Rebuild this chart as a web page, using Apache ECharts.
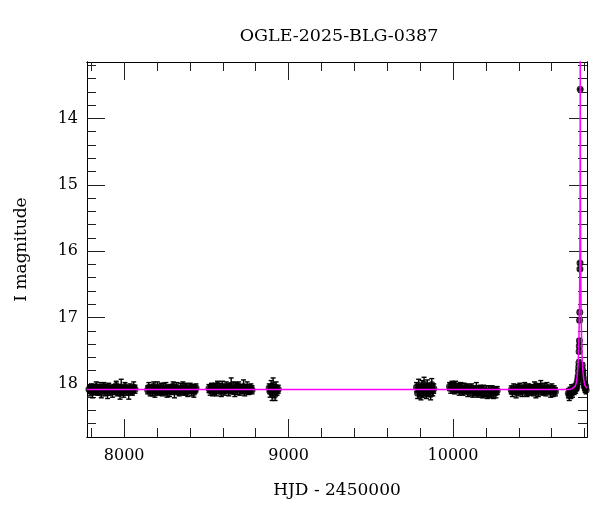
<!DOCTYPE html>
<html><head><meta charset="utf-8">
<script src="https://cdn.jsdelivr.net/npm/echarts@6/dist/echarts.min.js"></script>
<style>html,body{margin:0;padding:0;background:#fff}#c{width:600px;height:512px}</style>
</head><body><div id="c"></div>
<script>
// ---- Data (HJD - 2450000, I magnitude, error) ----
const sA_t = [7786,7793,7801,7808,7815,7823,7830,7838,7846,7853,7861,7868,7876,7884,7891,7899,7906,7914,7921,7929,7937,7944,7952,7959,7967,7975,7982,7990,7997,8005,8013,8020,8028,8036,8043,8051,8058,8066];
const sA_m = [18.08,18.11,18.05,18.13,18.07,18.10,18.04,18.12,18.09,18.06,18.14,18.08,18.03,18.11,18.07,18.13,18.05,18.10,18.08,18.12,18.06,18.09,18.02,18.11,18.07,18.14,18.05,18.09,18.12,18.04,18.10,18.07,18.13,18.06,18.09,18.11,18.05,18.08];
const sA_e = [0.06,0.07,0.05,0.08,0.06,0.06,0.07,0.05,0.06,0.08,0.07,0.06,0.05,0.07,0.06,0.09,0.06,0.07,0.06,0.08,0.05,0.07,0.06,0.07,0.06,0.09,0.12,0.06,0.08,0.06,0.07,0.05,0.10,0.06,0.07,0.06,0.08,0.06];

const sB_t = [8143,8150,8158,8165,8172,8180,8187,8195,8202,8209,8217,8224,8232,8239,8246,8254,8261,8269,8276,8283,8291,8298,8306,8313,8320,8328,8335,8343,8350,8357,8365,8372,8380,8387,8394,8402,8409,8417,8424,8431,8437];
const sB_m = [18.09,18.05,18.12,18.07,18.10,18.03,18.13,18.08,18.06,18.11,18.09,18.04,18.12,18.07,18.10,18.05,18.14,18.08,18.11,18.06,18.09,18.03,18.12,18.08,18.05,18.10,18.13,18.07,18.09,18.04,18.11,18.08,18.06,18.12,18.09,18.05,18.10,18.07,18.13,18.08,18.06];
const sB_e = [0.06,0.07,0.06,0.05,0.08,0.06,0.07,0.06,0.09,0.06,0.07,0.05,0.06,0.08,0.06,0.07,0.06,0.06,0.08,0.05,0.07,0.06,0.09,0.06,0.07,0.06,0.05,0.08,0.06,0.07,0.06,0.09,0.06,0.07,0.05,0.06,0.08,0.06,0.07,0.06,0.06];

const sC_t = [8516,8523,8531,8538,8546,8553,8561,8568,8576,8583,8591,8598,8606,8613,8621,8628,8636,8643,8651,8658,8666,8673,8681,8688,8696,8703,8711,8718,8726,8733,8741,8748,8756,8763,8771,8778];
const sC_m = [18.07,18.10,18.04,18.12,18.08,18.05,18.11,18.02,18.09,18.06,18.13,18.04,18.08,18.10,18.03,18.07,18.11,18.05,18.02,18.09,18.06,18.12,18.04,18.08,18.03,18.10,18.06,18.09,18.04,18.11,18.07,18.05,18.10,18.08,18.06,18.09];
const sC_e = [0.06,0.07,0.05,0.06,0.08,0.06,0.07,0.06,0.05,0.07,0.06,0.08,0.06,0.07,0.06,0.05,0.07,0.06,0.11,0.06,0.09,0.07,0.06,0.08,0.06,0.07,0.05,0.06,0.10,0.07,0.06,0.08,0.06,0.07,0.06,0.06];

const sD_t = [8882,8888,8894,8900,8906,8912,8918,8924,8930,8937];
const sD_m = [18.06,18.12,18.04,18.15,18.02,18.11,18.16,18.05,18.10,18.08];
const sD_e = [0.06,0.08,0.09,0.10,0.11,0.10,0.09,0.08,0.07,0.06];

const sE_t = [9778,9785,9791,9798,9805,9811,9818,9824,9831,9838,9844,9851,9857,9864,9871,9877,9883];
const sE_m = [18.05,18.14,18.02,18.10,18.17,18.04,18.12,18.00,18.09,18.15,18.03,18.11,18.06,18.16,18.01,18.10,18.07];
const sE_e = [0.07,0.08,0.09,0.08,0.07,0.09,0.08,0.10,0.08,0.07,0.09,0.08,0.07,0.08,0.09,0.08,0.07];

const sF_t = [9979,9986,9994,10001,10009,10016,10024,10031,10038,10046,10053,10061,10068,10076,10083,10090,10098,10105,10113,10120,10128,10135,10142,10150,10157,10165,10172,10180,10187,10194,10202,10209,10217,10224,10232,10239,10246,10254,10261,10269];
const sF_m = [18.04,18.07,18.02,18.06,18.09,18.03,18.08,18.05,18.10,18.04,18.07,18.11,18.06,18.09,18.05,18.12,18.08,18.10,18.06,18.13,18.09,18.11,18.07,18.14,18.10,18.08,18.12,18.15,18.09,18.13,18.11,18.16,18.10,18.14,18.12,18.09,18.15,18.11,18.13,18.10];
const sF_e = [0.06,0.07,0.06,0.08,0.06,0.07,0.05,0.06,0.07,0.06,0.08,0.06,0.07,0.06,0.05,0.07,0.06,0.08,0.06,0.07,0.06,0.07,0.09,0.06,0.07,0.06,0.08,0.06,0.07,0.06,0.08,0.06,0.07,0.06,0.09,0.06,0.07,0.06,0.08,0.06];

const sG_t = [10354,10361,10369,10376,10384,10391,10399,10406,10414,10421,10429,10436,10444,10451,10459,10466,10474,10481,10489,10496,10504,10511,10519,10526,10534,10541,10549,10556,10564,10571,10579,10586,10594,10601,10609,10616,10623];
const sG_m = [18.09,18.12,18.06,18.10,18.13,18.07,18.11,18.05,18.09,18.12,18.08,18.04,18.10,18.13,18.07,18.11,18.06,18.09,18.12,18.05,18.10,18.08,18.13,18.06,18.03,18.09,18.11,18.07,18.12,18.05,18.10,18.08,18.13,18.06,18.11,18.09,18.12];
const sG_e = [0.06,0.07,0.06,0.05,0.08,0.06,0.07,0.06,0.06,0.07,0.05,0.06,0.08,0.06,0.07,0.06,0.05,0.07,0.06,0.08,0.11,0.07,0.06,0.06,0.08,0.07,0.06,0.08,0.06,0.07,0.05,0.06,0.07,0.06,0.08,0.06,0.06];

const sH_t = [10702,10707,10712,10717,10722,10727,10732,10737,10742,10746,10750,10753,10756,10759,10761,10763,10765,10766,10767,10768,10769,10770,10771,10772,10772.5,10773.5,10786,10788,10790,10792,10795,10798,10801,10804,10807,10810];
const sH_m = [18.14,18.17,18.11,18.15,18.09,18.13,18.07,18.10,18.05,18.08,18.02,18.05,17.98,17.93,17.88,17.80,17.74,17.68,17.51,17.43,17.35,17.04,16.92,16.27,16.18,13.56,17.72,17.79,17.84,17.90,17.96,18.02,18.04,18.07,18.03,18.09];
const sH_e = [0.07,0.08,0.06,0.07,0.06,0.07,0.06,0.06,0.05,0.06,0.05,0.05,0.05,0.05,0.04,0.04,0.04,0.04,0.03,0.03,0.03,0.03,0.03,0.02,0.02,0.01,0.04,0.04,0.04,0.05,0.05,0.05,0.06,0.06,0.06,0.06];

// Model light curve
const modelT = [7774,10700,10724,10734,10744,10749,10754,10758,10761,10764,10766,10768,10770,10771,10772,10773,10774,10775,10776,10777,10778,10780,10782,10784,10787,10790,10794,10799,10804,10815];
const modelM = [18.085,18.085,18.075,18.06,18.03,17.99,17.91,17.81,17.68,17.49,17.30,17.03,16.63,16.33,15.90,15.16,13.09,15.16,15.90,16.33,16.63,17.03,17.30,17.49,17.68,17.81,17.91,17.99,18.03,18.06];

// Axis ticks
const xMajor = [8000, 9000, 10000];
const xMinor = [7800,8000,8200,8400,8600,8800,9000,9200,9400,9600,9800,10000,10200,10400,10600,10800];
const yMajor = [14, 15, 16, 17, 18];
const yMinor = [13.2,13.4,13.6,13.8,14,14.2,14.4,14.6,14.8,15,15.2,15.4,15.6,15.8,16,16.2,16.4,16.6,16.8,17,17.2,17.4,17.6,17.8,18,18.2,18.4,18.6];

const titleText = 'OGLE-2025-BLG-0387';
const xName = 'HJD - 2450000';
const yName = 'I magnitude';

// ---- Build ----
const seasons = [[sA_t,sA_m,sA_e],[sB_t,sB_m,sB_e],[sC_t,sC_m,sC_e],[sD_t,sD_m,sD_e],[sE_t,sE_m,sE_e],[sF_t,sF_m,sF_e],[sG_t,sG_m,sG_e],[sH_t,sH_m,sH_e]];
const points = [];
seasons.forEach(([t,m,e]) => { t.forEach((v,i) => { if (m[i] != null) points.push([v, m[i], e[i] != null ? e[i] : 0.06]); }); });
const model = modelT.map((t,i) => [t, modelM[i]]);

const X_MIN = 7774, X_MAX = 10815, Y_MIN = 13.15, Y_MAX = 18.80;
const FONT = 'DejaVu Serif';
const tickColor = '#222';
const plain = v => String(v);

function xAx(pos, ticks, len, withLabels, name) {
  const a = {
    type: 'value', position: pos, min: X_MIN, max: X_MAX, gridIndex: 0,
    axisLine: { show: true, onZero: false, lineStyle: { color: '#000', width: 1 } },
    axisTick: { show: true, inside: true, length: len, customValues: ticks, lineStyle: { color: tickColor, width: 1 } },
    axisLabel: { show: false },
    splitLine: { show: false }
  };
  if (withLabels) {
    a.axisLabel = { show: true, customValues: ticks, formatter: plain, color: '#000', fontFamily: FONT, fontSize: 16, margin: 11 };
  }
  if (name) {
    a.name = name; a.nameLocation = 'middle'; a.nameGap = 45;
    a.nameTextStyle = { color: '#000', fontFamily: FONT, fontSize: 17 };
  }
  return a;
}
function yAx(pos, ticks, len, withLabels, name) {
  const a = {
    type: 'value', position: pos, min: Y_MIN, max: Y_MAX, inverse: true, gridIndex: 0,
    axisLine: { show: true, onZero: false, lineStyle: { color: '#000', width: 1 } },
    axisTick: { show: true, inside: true, length: len, customValues: ticks, lineStyle: { color: tickColor, width: 1 } },
    axisLabel: { show: false },
    splitLine: { show: false }
  };
  if (withLabels) {
    a.axisLabel = { show: true, customValues: ticks, formatter: plain, color: '#000', fontFamily: FONT, fontSize: 16, margin: 9 };
  }
  if (name) {
    a.name = name; a.nameLocation = 'middle'; a.nameGap = 57; a.nameRotate = 90;
    a.nameTextStyle = { color: '#000', fontFamily: FONT, fontSize: 17 };
  }
  return a;
}

const chart = echarts.init(document.getElementById('c'), null, { renderer: 'canvas' });
chart.setOption({
  animation: false,
  backgroundColor: '#fff',
  title: { text: titleText, left: 334, top: 22, textAlign: 'center',
    textStyle: { fontFamily: FONT, fontSize: 17.5, fontWeight: 'normal', color: '#000' } },
  grid: { left: 87, top: 62, width: 500, height: 375, containLabel: false },
  xAxis: [
    xAx('bottom', xMajor, 18, true, xName),
    xAx('bottom', xMinor, 9, false),
    xAx('top', xMajor, 18, false),
    xAx('top', xMinor, 9, false)
  ],
  yAxis: [
    yAx('left', yMajor, 18, true, yName),
    yAx('left', yMinor, 9, false),
    yAx('right', yMajor, 18, false),
    yAx('right', yMinor, 9, false)
  ],
  series: [
    {
      type: 'custom', xAxisIndex: 0, yAxisIndex: 0, clip: true, z: 2,
      data: points,
      renderItem: function (params, api) {
        const x = api.value(0), y = api.value(1), e = api.value(2);
        const p1 = api.coord([x, y - e]);
        const p2 = api.coord([x, y + e]);
        const hw = 2.5;
        const st = { stroke: '#000', lineWidth: 1.4 };
        return { type: 'group', children: [
          { type: 'line', shape: { x1: p1[0], y1: p1[1], x2: p2[0], y2: p2[1] }, style: st },
          { type: 'line', shape: { x1: p1[0] - hw, y1: p1[1], x2: p1[0] + hw, y2: p1[1] }, style: st },
          { type: 'line', shape: { x1: p2[0] - hw, y1: p2[1], x2: p2[0] + hw, y2: p2[1] }, style: st }
        ] };
      }
    },
    {
      type: 'scatter', xAxisIndex: 0, yAxisIndex: 0, z: 3,
      data: points.map(p => [p[0], p[1]]),
      symbol: 'circle', symbolSize: 7,
      itemStyle: { color: '#000' }
    },
    {
      type: 'line', xAxisIndex: 0, yAxisIndex: 0, z: 4, clip: true,
      data: model, showSymbol: false, symbol: 'none',
      lineStyle: { color: '#ff00ff', width: 1.5 }
    }
  ]
});
</script>
</body></html>
